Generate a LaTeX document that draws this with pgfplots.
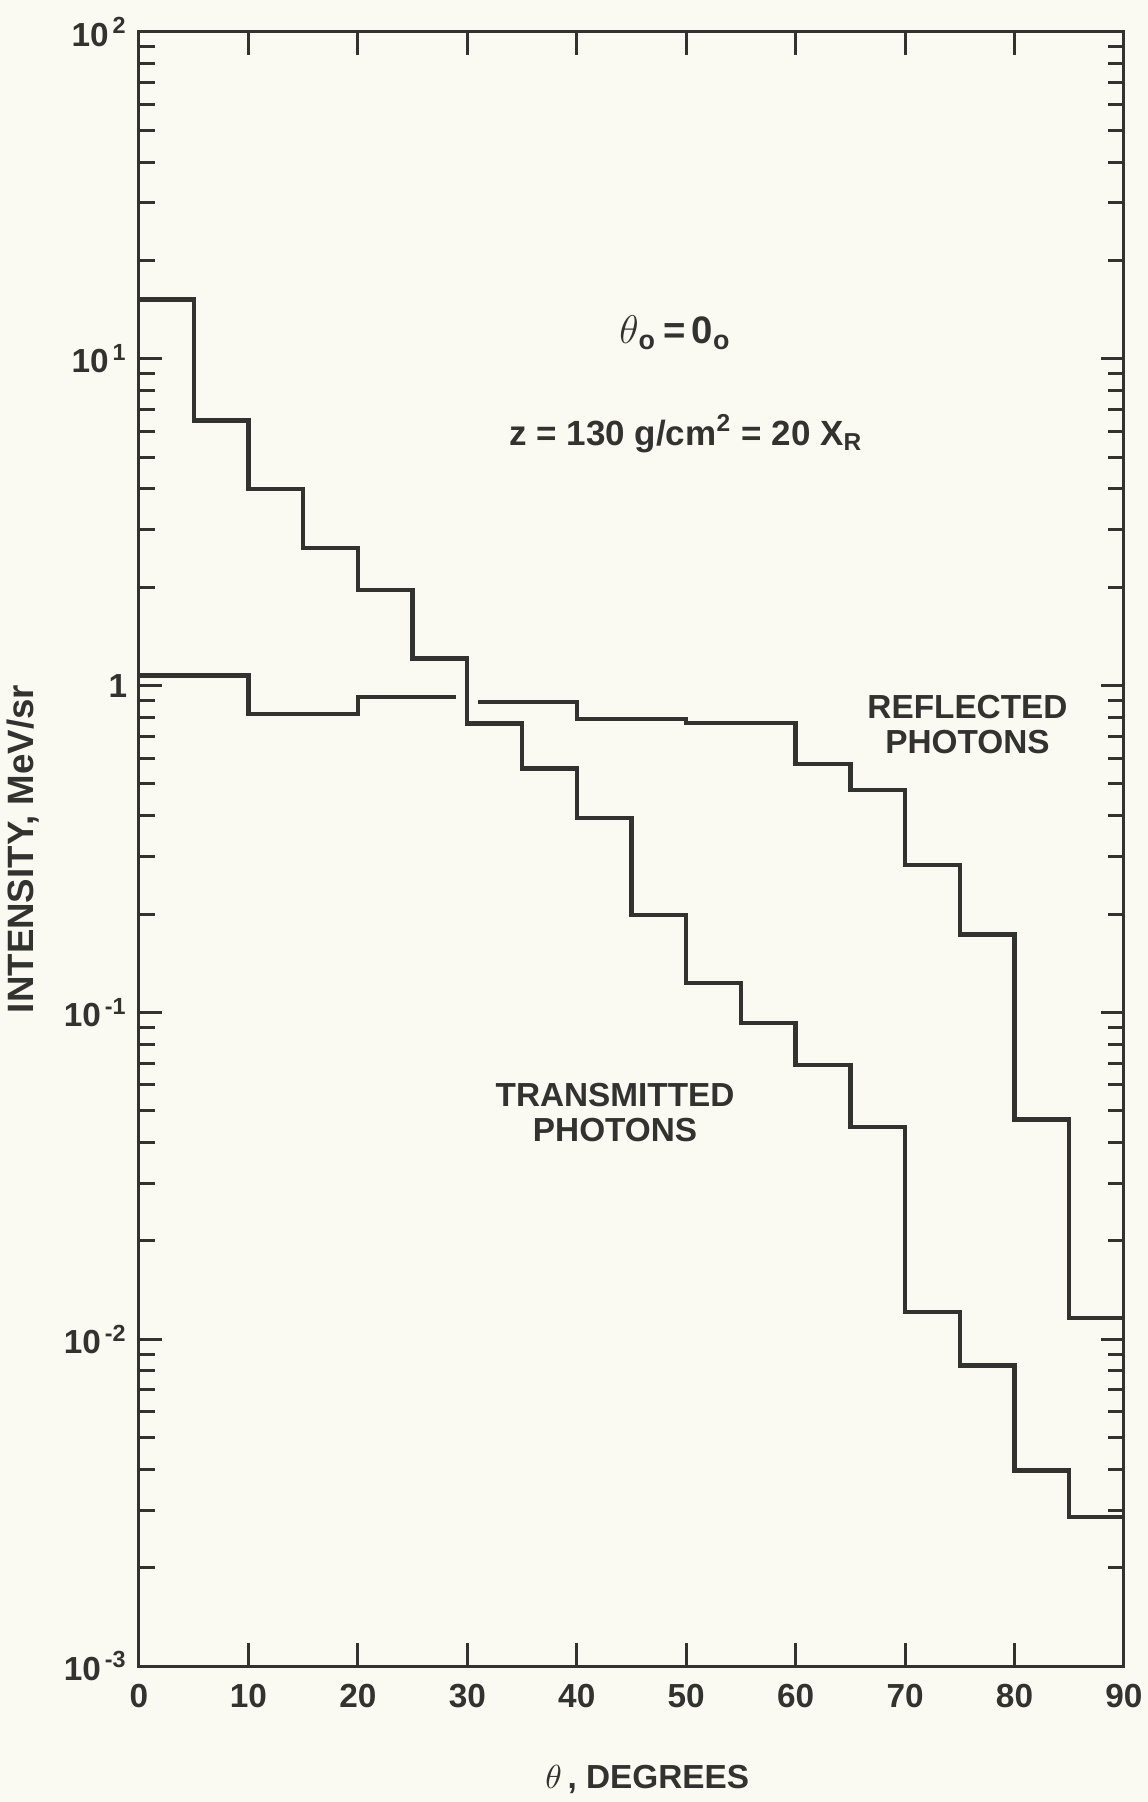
\documentclass[border=0pt]{standalone}
\usepackage{fontspec}
\setmainfont{Liberation Sans}
\usepackage{pgfplots}
\pgfplotsset{compat=1.18}

\definecolor{ink}{RGB}{50,50,48}
\definecolor{paper}{RGB}{250,250,243}

\begin{document}
\begin{tikzpicture}
% page frame: axis box is 295.5pt x 490.2pt with its lower left corner at the origin
\path[fill=paper, use as bounding box] (-41.7pt,-40.8pt) rectangle (302.7pt,499.8pt);
\begin{axis}[
  at={(0pt,0pt)}, anchor=south west,
  scale only axis, width=295.5pt, height=490.2pt,
  ymode=log,
  xmin=0, xmax=90, ymin=1e-3, ymax=1e2,
  clip=false,
  axis line style={ink, line width=0.9pt},
  tick style={ink, line width=0.9pt},
  major tick length=7pt, minor tick length=4.8pt,
  xtick={0,10,...,90},
  xticklabels={0,10,20,30,40,50,60,70,80,90},
  ytick={1e-3,1e-2,1e-1,1,1e1,1e2},
  yticklabels={10\textsuperscript{\,-3},10\textsuperscript{\,-2},10\textsuperscript{\,-1},1,10\textsuperscript{\,1},10\textsuperscript{\,2}},
  minor ytick={2e-3,3e-3,4e-3,5e-3,6e-3,7e-3,8e-3,9e-3,
               2e-2,3e-2,4e-2,5e-2,6e-2,7e-2,8e-2,9e-2,
               2e-1,3e-1,4e-1,5e-1,6e-1,7e-1,8e-1,9e-1,
               2,3,4,5,6,7,8,9,
               20,30,40,50,60,70,80,90},
  tick label style={font=\bfseries\fontsize{10}{12}\selectfont, text=ink},
  xticklabel style={yshift=-2pt},
  xlabel={$\theta$\,, DEGREES},
  xlabel style={at={(axis description cs:0.516,0)}, anchor=center, yshift=-33.9pt,
                font=\bfseries\fontsize{10}{12}\selectfont, text=ink},
  ylabel={INTENSITY, MeV/sr},
  % the label is turned by 90 degrees, so a shift along its own y moves it left
  ylabel style={at={(axis description cs:0,0.5)}, anchor=center, yshift=34.8pt,
                font=\bfseries\fontsize{11}{13}\selectfont, text=ink},
]
% transmitted photons, 5-degree bins
\addplot[const plot, ink, line width=1.3pt] coordinates {
  (0,15.2) (5,6.47) (10,3.99) (15,2.64) (20,1.96) (25,1.21)
  (30,0.766) (35,0.557) (40,0.393) (45,0.199) (50,0.123) (55,0.0927)
  (60,0.069) (65,0.0446) (70,0.0121) (75,0.0083) (80,0.00397)
  (85,0.00286) (90,0.00286)};
% reflected photons (broken where it meets the transmitted curve at 30 degrees)
\addplot[const plot, ink, line width=1.3pt] coordinates {
  (0,1.075) (10,0.82) (20,0.925) (29,0.925)};
\addplot[const plot, ink, line width=1.3pt] coordinates {
  (31,0.89) (40,0.79) (50,0.77) (60,0.575) (65,0.48) (70,0.282)
  (75,0.173) (80,0.047) (85,0.0116) (90,0.0116)};

\node[text=ink, font=\bfseries\fontsize{11.5}{13}\selectfont] at (axis cs:49,12)
  {$\theta$\textsubscript{o}\,=\,0\textsubscript{o}};
\node[text=ink, font=\bfseries\fontsize{10.5}{12}\selectfont] at (axis cs:50,5.9)
  {z = 130 g/cm\textsuperscript{2} = 20 X\textsubscript{R}};
\node[text=ink, align=center, font=\bfseries\fontsize{10}{10.6}\selectfont] at (axis cs:75.7,0.76)
  {REFLECTED\\PHOTONS};
\node[text=ink, align=center, font=\bfseries\fontsize{10}{10.6}\selectfont] at (axis cs:43.5,0.0495)
  {TRANSMITTED\\PHOTONS};
\end{axis}
\end{tikzpicture}
\end{document}
